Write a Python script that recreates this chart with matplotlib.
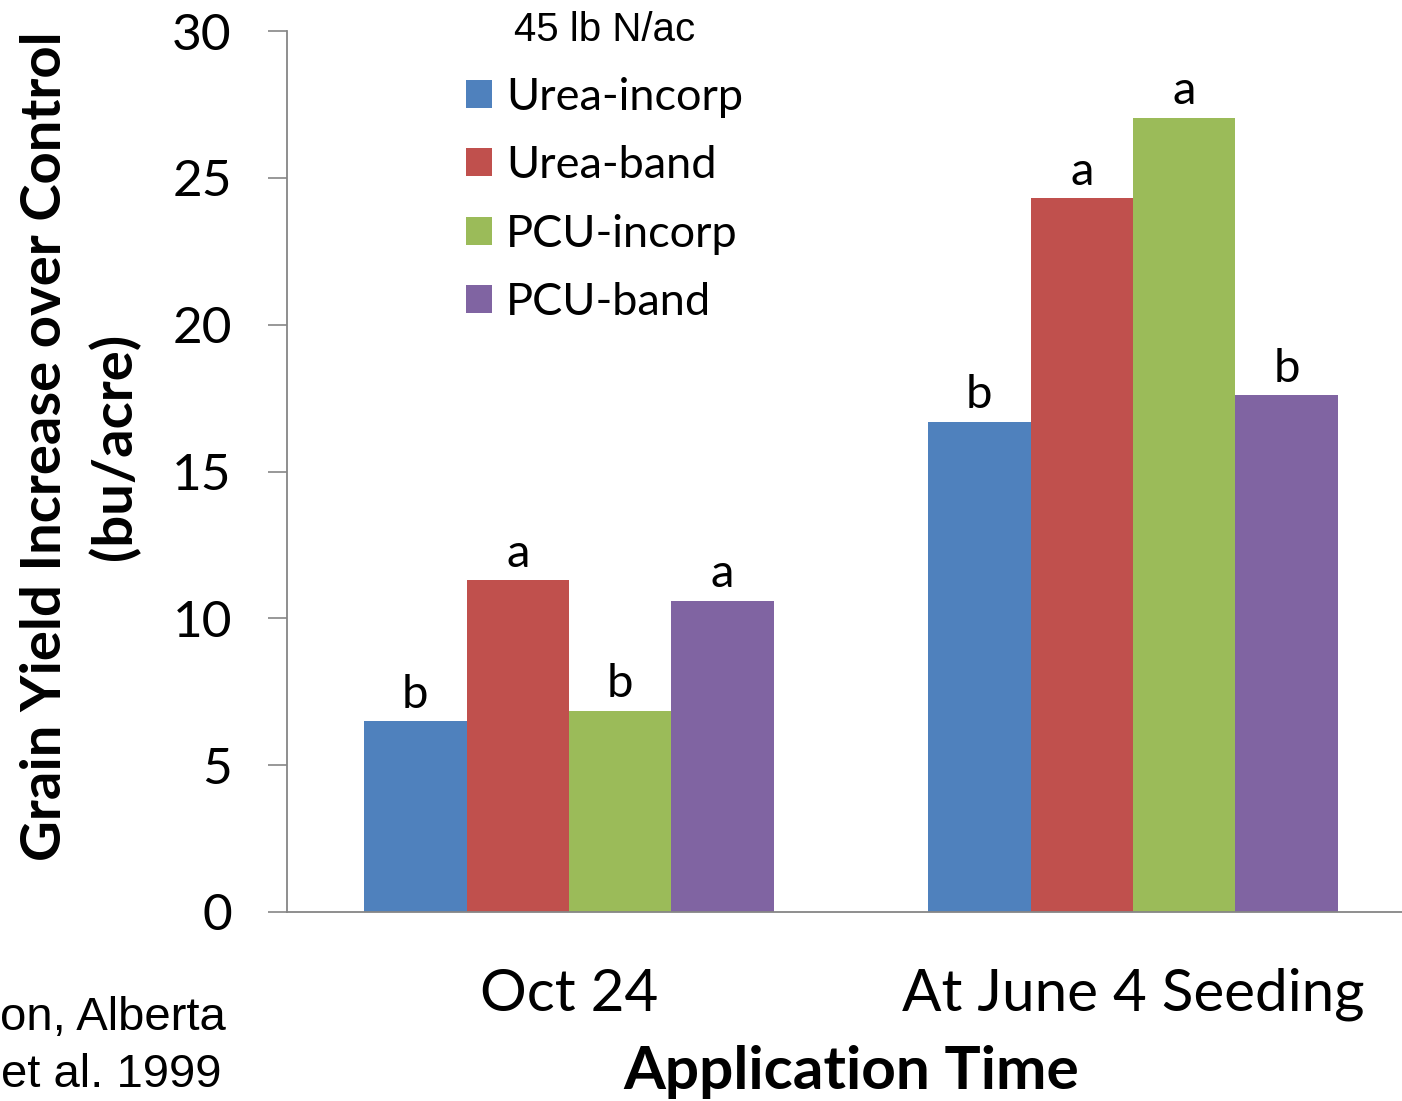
import numpy as np
import matplotlib
matplotlib.use('Agg')
import matplotlib.pyplot as plt

# Data
times = ['Oct 24', 'At June 4 Seeding']
treatments = ['Urea-incorp', 'Urea-band', 'PCU-incorp', 'PCU-band']
urea_incorp = [6.5, 16.7]
urea_band = [11.3, 24.3]
pcu_incorp = [6.85, 27.05]
pcu_band = [10.6, 17.6]
letters = [['b', 'b'], ['a', 'a'], ['b', 'a'], ['a', 'b']]
colors = ['#4F81BD', '#C0504D', '#9BBB59', '#8064A2']

series = [urea_incorp, urea_band, pcu_incorp, pcu_band]

calibri_like = 'Lato'
arial_like = 'Liberation Sans'
axis_grey = '#868686'

fig = plt.figure(figsize=(14.02, 11.01), dpi=100)
W, H = 1402, 1101
# axes: left spine x=287, bottom y=912, top (30) y=31, right beyond image
ax = fig.add_axes([287 / W, 1 - 912 / H, 1128 / W, (912 - 31) / H])

x = np.arange(len(times))
bw = 0.1817
for i, (vals, lab) in enumerate(zip(series, treatments)):
    pos = x + (i - 1.5) * bw
    bars = ax.bar(pos, vals, width=bw, color=colors[i], label=lab,
                  edgecolor='none', zorder=2)
    for b, letter in zip(bars, letters[i]):
        ax.annotate(letter, (b.get_x() + b.get_width() / 2, b.get_height()),
                    xytext=(0, 4), textcoords='offset points',
                    ha='center', va='bottom', fontsize=34,
                    family=calibri_like)

ax.set_xlim(-0.5, 1.5)
ax.set_ylim(0, 30)
ax.set_yticks(range(0, 31, 5))
ax.set_xticks(x)
ax.set_xticklabels(times, fontsize=42, family=calibri_like)
for t in ax.get_yticklabels():
    t.set_fontsize(37)
    t.set_family(calibri_like)

ax.tick_params(axis='y', direction='out', length=13.7, width=1.2,
               color=axis_grey, pad=26)
ax.tick_params(axis='x', length=0, pad=40)

for s in ['top', 'right']:
    ax.spines[s].set_visible(False)
for s in ['left', 'bottom']:
    ax.spines[s].set_color(axis_grey)
    ax.spines[s].set_linewidth(1.3)

# Axis titles
fig.text(80 / W, 1 - 446 / H, 'Grain Yield Increase over Control\n(bu/acre)',
         rotation=90, ha='center', va='center', multialignment='center',
         fontsize=40.5, fontweight='bold', family=calibri_like, linespacing=1.4)
fig.text(851 / W, 1 - 1072 / H, 'Application Time', ha='center', va='center',
         fontsize=43.5, fontweight='bold', family=calibri_like)

# Legend
leg = ax.legend(title='45 lb N/ac', loc='upper left',
                bbox_to_anchor=(439 / W, 1 + 16 / H),
                bbox_transform=fig.transFigure, frameon=False,
                prop={'family': calibri_like, 'size': 32.5},
                handlelength=0.58, handleheight=0.58, handletextpad=0.3,
                labelspacing=0.61, borderpad=0.1)
leg.get_title().set_fontsize(29)
leg.get_title().set_family(arial_like)

# Source note (cropped at the left edge in the original)
fig.text(0 / W, 1 - 1030 / H, 'on, Alberta', ha='left', va='baseline',
         fontsize=34, family=arial_like)
fig.text(1 / W, 1 - 1087 / H, 'et al. 1999', ha='left', va='baseline',
         fontsize=34, family=arial_like)

fig.savefig('out.png', dpi=100)
